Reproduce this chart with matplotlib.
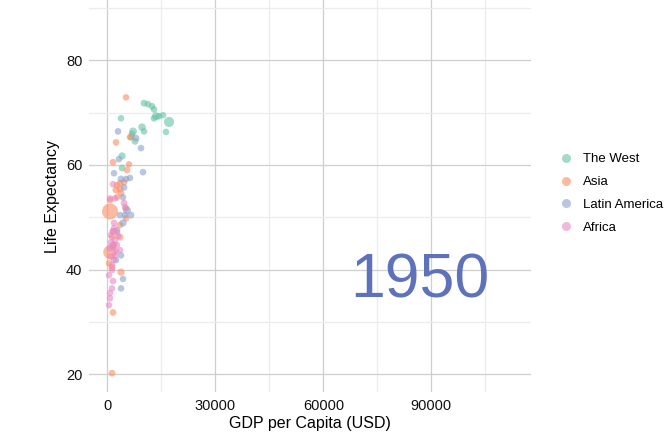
import matplotlib
matplotlib.use("Agg")
import matplotlib.pyplot as plt
from matplotlib.lines import Line2D
import numpy as np

plt.rcParams['font.family'] = ['Liberation Sans', 'DejaVu Sans']

year_label = "1950"
regions = ["The West", "Asia", "Latin America", "Africa"]
colors = {"The West": "#66c2a5", "Asia": "#fc8d62",
          "Latin America": "#8da0cb", "Africa": "#e78ac3"}

# The West
west_gdp = [10195, 11306, 12417, 12973, 13528, 12973, 14361, 15472, 17140, 16306,
            3806, 9639, 10195, 7139, 6861, 6583, 7695, 4084, 4084]
west_life = [71.8, 71.6, 71.2, 70.6, 69.3, 68.9, 69.3, 69.5, 68.2, 66.3,
             68.9, 67.2, 66.4, 66.4, 65.9, 65.3, 64.5, 61.7, 59.4]
west_pop = [10, 8, 4, 7, 50, 9, 4, 3, 157, 2,
            3, 40, 5, 47, 8, 9, 14, 25, 9]

# Asia
asia_gdp = [5195, 2417, 6306, 1584, 6028, 5473, 4639, 3528, 2695, 2417, 3528, 3806,
            2695, 750, 750, 5195, 5195, 3528, 1584, 3528, 1306, 750, 1306, 3806,
            1584, 1306, 472, 1861]
asia_life = [72.9, 64.3, 65.3, 60.5, 60.1, 59.0, 56.7, 56.5, 56.1, 55.2, 55.4, 54.6,
             53.8, 53.3, 51.1, 51.7, 49.8, 48.5, 47.3, 46.2, 46.2, 43.3, 40.4, 39.5,
             31.8, 20.2, 41.2, 44.7]
asia_pop = [2, 3, 5, 8, 2, 4, 6, 3, 10, 20, 5, 8,
            4, 2, 555, 3, 6, 9, 12, 15, 7, 372, 20, 30,
            8, 9, 5, 4]

# Latin America
latam_gdp = [2972, 7973, 9361, 3250, 1861, 9917, 3806, 5195, 6306, 4639, 4361, 5473,
             3528, 4917, 6583, 4361, 2695, 3806, 2417, 4361, 3806]
latam_life = [66.4, 65.1, 63.2, 61.1, 58.4, 58.6, 57.3, 57.3, 57.5, 55.7, 53.8, 51.3,
              50.4, 50.4, 50.4, 48.9, 47.5, 42.7, 41.8, 38.2, 36.4]
latam_pop = [6, 17, 5, 3, 2, 4, 10, 3, 2, 8, 1, 53,
             4, 2, 12, 28, 3, 5, 2, 4, 3]

# Africa
africa_gdp = [1584, 750, 2139, 4639, 4917, 1861, 1584, 2695, 1028, 2139, 1584, 2695,
              1584, 750, 2139, 1861, 1306, 472, 1584, 1306, 750, 750, 472, 1028,
              2417, 1306, 1861, 2972, 1028, 3528]
africa_life = [56.3, 53.6, 53.6, 52.7, 51.9, 48.9, 47.3, 47.1, 46.6, 45.6, 44.7, 44.7,
               44.3, 44.1, 42.7, 41.8, 40.8, 38.9, 37.8, 36.4, 35.5, 34.5, 33.2, 42.5,
               43.5, 39.9, 47.9, 46.4, 45.2, 43.7]
africa_pop = [4, 3, 2, 9, 3, 5, 6, 2, 4, 8, 20, 3,
              5, 33, 6, 4, 3, 2, 5, 3, 2, 4, 1, 18,
              7, 3, 2, 4, 5, 2]

data = {
    "The West": (west_gdp, west_life, west_pop),
    "Asia": (asia_gdp, asia_life, asia_pop),
    "Latin America": (latam_gdp, latam_life, latam_pop),
    "Africa": (africa_gdp, africa_life, africa_pop),
}

fig = plt.figure(figsize=(6.72, 4.47), dpi=100)
ax = fig.add_axes([0.1329, 0.123, 0.6568, 0.877])

ax.set_xlim(-5000, 117600)
ax.set_ylim(16.6, 91.5)

ax.set_xticks([0, 30000, 60000, 90000])
ax.set_xticks([15000, 45000, 75000, 105000], minor=True)
ax.set_yticks([20, 40, 60, 80])
ax.set_yticks([30, 50, 70, 90], minor=True)
ax.grid(which='major', color='#cfcfcf', linewidth=0.9)
ax.grid(which='minor', color='#ececec', linewidth=0.9)
ax.set_axisbelow(True)
for s in ax.spines.values():
    s.set_visible(False)
ax.tick_params(which='both', length=0, labelsize=10.5, colors='#111111', pad=5)

ax.text(86700, 37.8, year_label, fontsize=45, color='#5e71bb',
        ha='center', va='center', zorder=1)

for r in regions:
    g, l, p = data[r]
    sizes = 22 + 0.2 * np.array(p, dtype=float)
    ax.scatter(g, l, s=sizes, color=colors[r], alpha=0.6, linewidths=0, zorder=3)

ax.set_xlabel("GDP per Capita (USD)", fontsize=11.5, labelpad=2)
ax.set_ylabel("Life Expectancy", fontsize=11.5, labelpad=4)

handles = [Line2D([0], [0], marker='o', linestyle='', markersize=6.5,
                  markerfacecolor=colors[r], markeredgewidth=0, alpha=0.6, label=r)
           for r in regions]
fig.legend(handles=handles, loc='center left', bbox_to_anchor=(0.824, 0.567),
           frameon=False, fontsize=9.5, handletextpad=0.8, labelspacing=0.8,
           borderaxespad=0, handlelength=1.0)

fig.savefig("out.png", dpi=100)
